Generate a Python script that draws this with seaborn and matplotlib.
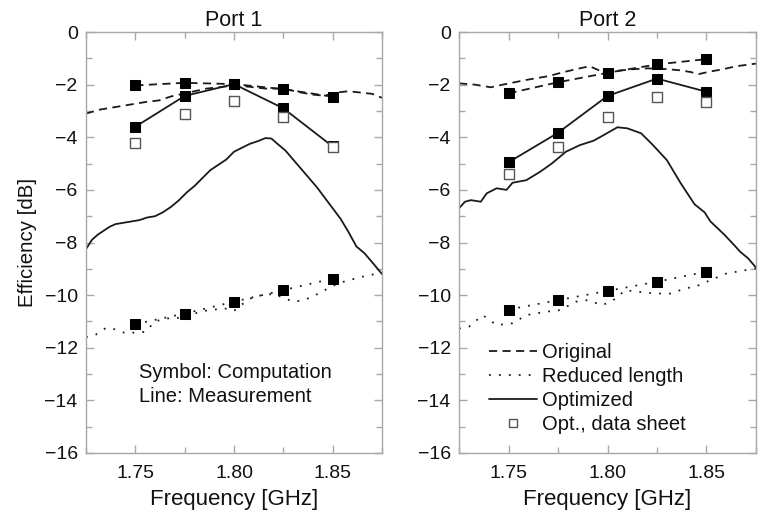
import numpy as np
import pandas as pd
import matplotlib
matplotlib.use("Agg")
import matplotlib.pyplot as plt
from matplotlib.lines import Line2D
from matplotlib.ticker import MultipleLocator
import seaborn as sns

# ---- computed values (symbols), sampled at the design frequencies ----
f_calc = [1.75, 1.775, 1.80, 1.825, 1.85]

p1_orig_calc = [-2.03, -1.93, -1.98, -2.17, -2.46]
p1_red_calc = [-11.10, -10.70, -10.25, -9.81, -9.37]
p1_opt_calc = [-3.60, -2.43, -1.98, -2.90, -4.35]
p1_sheet = [-4.20, -3.13, -2.62, -3.22, -4.38]

p2_orig_calc = [-2.33, -1.91, -1.55, -1.23, -1.03]
p2_red_calc = [-10.55, -10.19, -9.84, -9.49, -9.11]
p2_opt_calc = [-4.95, -3.83, -2.43, -1.77, -2.27]
p2_sheet = [-5.40, -4.38, -3.23, -2.46, -2.65]

# ---- measured curves, Port 1 ----
p1_orig_f = [1.725, 1.732, 1.740, 1.748, 1.756, 1.762, 1.768, 1.774, 1.780, 1.786,
             1.792, 1.798, 1.804, 1.810, 1.816, 1.822, 1.828, 1.834, 1.840, 1.846,
             1.852, 1.858, 1.864, 1.870, 1.875]
p1_orig_meas = [-3.10, -2.95, -2.85, -2.75, -2.65, -2.60, -2.45, -2.35, -2.25, -2.15,
                -2.10, -2.05, -2.05, -2.10, -2.15, -2.15, -2.20, -2.30, -2.38, -2.42,
                -2.30, -2.25, -2.30, -2.35, -2.50]

p1_red_f = [1.725, 1.730, 1.735, 1.740, 1.745, 1.750, 1.755, 1.760, 1.765, 1.770,
            1.775, 1.780, 1.785, 1.790, 1.795, 1.800, 1.805, 1.810, 1.815, 1.820,
            1.825, 1.830, 1.835, 1.840, 1.845, 1.850, 1.855, 1.860, 1.865, 1.870, 1.875]
p1_red_meas = [-11.60, -11.50, -11.25, -11.30, -11.45, -11.42, -11.40, -11.00, -10.90, -10.85,
               -10.90, -10.70, -10.60, -10.55, -10.50, -10.60, -10.30, -10.05, -10.00, -9.95,
               -10.10, -10.25, -10.20, -10.05, -9.85, -9.65, -9.50, -9.40, -9.30, -9.22, -9.15]

p1_opt_f = [1.725, 1.728, 1.731, 1.734, 1.737, 1.740, 1.744, 1.748, 1.752, 1.756,
            1.760, 1.764, 1.768, 1.772, 1.776, 1.780, 1.784, 1.788, 1.792, 1.796,
            1.800, 1.804, 1.808, 1.812, 1.816, 1.819, 1.822, 1.826, 1.830, 1.834,
            1.838, 1.842, 1.846, 1.850, 1.854, 1.858, 1.862, 1.866, 1.870, 1.875]
p1_opt_meas = [-8.25, -7.90, -7.70, -7.55, -7.40, -7.30, -7.25, -7.20, -7.15, -7.05,
               -7.00, -6.85, -6.65, -6.40, -6.10, -5.85, -5.55, -5.25, -5.05, -4.85,
               -4.55, -4.40, -4.25, -4.15, -4.03, -4.05, -4.25, -4.50, -4.85, -5.20,
               -5.55, -5.90, -6.30, -6.70, -7.10, -7.60, -8.15, -8.40, -8.75, -9.20]

# ---- measured curves, Port 2 ----
p2_orig_f = [1.725, 1.733, 1.741, 1.749, 1.759, 1.770, 1.778, 1.786, 1.791, 1.797,
             1.804, 1.812, 1.820, 1.828, 1.836, 1.842, 1.846, 1.852, 1.858, 1.865, 1.875]
p2_orig_meas = [-1.95, -2.00, -2.10, -1.97, -1.82, -1.68, -1.52, -1.38, -1.30, -1.50,
                -1.48, -1.42, -1.38, -1.40, -1.45, -1.52, -1.60, -1.50, -1.42, -1.30, -1.20]

p2_red_f = [1.725, 1.730, 1.737, 1.744, 1.752, 1.759, 1.769, 1.776, 1.784, 1.790,
            1.797, 1.802, 1.809, 1.815, 1.824, 1.832, 1.839, 1.845, 1.852, 1.860, 1.875]
p2_red_meas = [-11.27, -11.20, -10.76, -11.14, -11.07, -10.76, -10.63, -10.57, -10.25, -10.19,
               -10.38, -10.25, -9.81, -9.87, -9.94, -9.94, -9.75, -9.66, -9.43, -9.18, -8.98]

p2_opt_f = [1.725, 1.728, 1.731, 1.736, 1.739, 1.744, 1.749, 1.752, 1.759, 1.766,
            1.772, 1.779, 1.786, 1.793, 1.798, 1.802, 1.805, 1.810, 1.817, 1.823,
            1.830, 1.837, 1.844, 1.849, 1.852, 1.859, 1.864, 1.867, 1.871, 1.875]
p2_opt_meas = [-6.70, -6.45, -6.39, -6.45, -6.13, -5.94, -6.00, -5.73, -5.63, -5.31,
               -4.99, -4.55, -4.30, -4.13, -3.92, -3.75, -3.62, -3.66, -3.85, -4.30,
               -4.87, -5.75, -6.55, -6.85, -7.20, -7.70, -8.10, -8.35, -8.60, -8.95]

titles = ["Port 1", "Port 2"]
x_ticks = [1.75, 1.80, 1.85]
x_tick_labels = ["1.75", "1.80", "1.85"]

sns.set_theme(style="white")
plt.rcParams["font.family"] = ["Liberation Sans", "DejaVu Sans"]

fig = plt.figure(figsize=(7.63, 5.14), dpi=100)
ax1 = fig.add_axes([0.1127, 0.1187, 0.3880, 0.8190])
ax2 = fig.add_axes([0.6016, 0.1187, 0.3892, 0.8190])

ink = "#1a1a1a"
frame = "#a8a8a8"
dash = (0, (4.5, 3))
dot = (0, (1, 4.5))


def draw_port(ax, meas, calc, sheet):
    styles = [dash, dot, "-"]
    for (f, v), ls in zip(meas, styles):
        df = pd.DataFrame({"f": f, "v": v})
        sns.lineplot(data=df, x="f", y="v", ax=ax, color=ink, linestyle=ls,
                     linewidth=1.3, estimator=None, sort=False)
    for v, ls in zip(calc, styles):
        df = pd.DataFrame({"f": f_calc, "v": v})
        sns.lineplot(data=df, x="f", y="v", ax=ax, color=ink, linestyle=ls,
                     linewidth=1.3, estimator=None, sort=False,
                     marker="s", markersize=7.5, markerfacecolor="black",
                     markeredgecolor="black")
    df = pd.DataFrame({"f": f_calc, "v": sheet})
    sns.scatterplot(data=df, x="f", y="v", ax=ax, marker="s", s=55,
                    facecolor="white", edgecolor="#555555", linewidth=1.0, zorder=4)


draw_port(ax1,
          [(p1_orig_f, p1_orig_meas), (p1_red_f, p1_red_meas), (p1_opt_f, p1_opt_meas)],
          [p1_orig_calc, p1_red_calc, p1_opt_calc], p1_sheet)
draw_port(ax2,
          [(p2_orig_f, p2_orig_meas), (p2_red_f, p2_red_meas), (p2_opt_f, p2_opt_meas)],
          [p2_orig_calc, p2_red_calc, p2_opt_calc], p2_sheet)

for ax, title in zip([ax1, ax2], titles):
    ax.set_xlim(1.725, 1.875)
    ax.set_ylim(-16, 0)
    ax.set_xticks(x_ticks)
    ax.set_xticklabels(x_tick_labels)
    ax.xaxis.set_minor_locator(MultipleLocator(0.025))
    ax.yaxis.set_major_locator(MultipleLocator(2))
    ax.yaxis.set_minor_locator(MultipleLocator(1))
    ax.tick_params(which="both", direction="in", top=True, right=True,
                   bottom=True, left=True, colors=frame, labelcolor="#111111",
                   labelsize=14)
    ax.tick_params(axis="x", which="both", pad=9)
    ax.tick_params(axis="y", which="both", pad=6)
    ax.tick_params(which="major", length=6, width=1)
    ax.tick_params(which="minor", length=4, width=1)
    for sp in ax.spines.values():
        sp.set_color(frame)
        sp.set_linewidth(1.0)
    ax.set_title(title, fontsize=15.5, pad=4, color="#111111")
    ax.set_xlabel("Frequency [GHz]", fontsize=16, labelpad=5, color="#111111")
    ax.set_ylabel("")
    ax.grid(False)

ax1.set_ylabel("Efficiency [dB]", fontsize=14.7, labelpad=5, color="#111111")

ax1.text(0.179, 0.192, "Symbol: Computation", transform=ax1.transAxes,
         fontsize=14.5, va="center", ha="left", color="#111111")
ax1.text(0.179, 0.133, "Line: Measurement", transform=ax1.transAxes,
         fontsize=14.5, va="center", ha="left", color="#111111")

handles = [
    Line2D([], [], color=ink, linestyle=dash, linewidth=1.3),
    Line2D([], [], color=ink, linestyle=dot, linewidth=1.3),
    Line2D([], [], color=ink, linestyle="-", linewidth=1.3),
    Line2D([], [], linestyle="none", marker="s", markersize=6,
           markerfacecolor="white", markeredgecolor="#555555"),
]
labels = ["Original", "Reduced length", "Optimized", "Opt., data sheet"]
leg = ax2.legend(handles, labels, loc="upper left", bbox_to_anchor=(0.1, 0.262),
                 frameon=False, fontsize=14.5, handlelength=2.4, handletextpad=0.25,
                 labelspacing=0.25, borderaxespad=0, borderpad=0)
for t in leg.get_texts():
    t.set_color("#111111")

fig.savefig("out.png", dpi=100)
